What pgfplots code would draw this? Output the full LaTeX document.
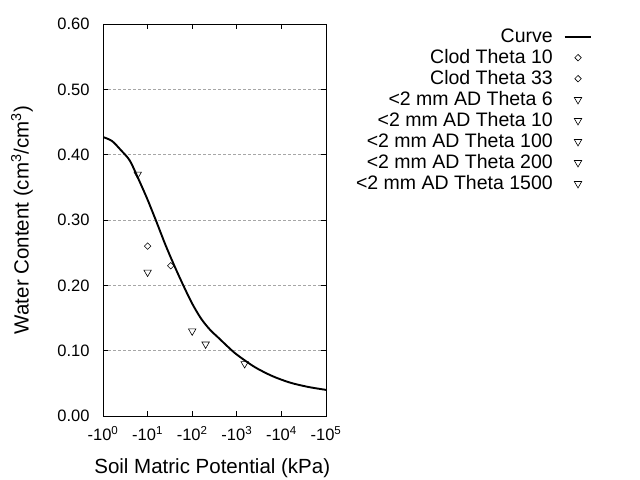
\documentclass[border=0pt]{standalone}
\usepackage{fontspec}
\setmainfont{Liberation Sans}
\usepackage{pgfplots}
\pgfplotsset{compat=1.18}
\begin{document}
\begin{tikzpicture}
\useasboundingbox (0,0) rectangle (640bp,480bp);
\begin{axis}[
  at={(103bp,64bp)}, anchor=south west,
  scale only axis, width=223bp, height=392bp,
  xmode=log, xmin=1, xmax=100000,
  ymin=0, ymax=0.6,
  xtick={1,10,100,1000,10000,100000},
  xticklabels={-10\textsuperscript{0},-10\textsuperscript{1},-10\textsuperscript{2},-10\textsuperscript{3},-10\textsuperscript{4},-10\textsuperscript{5}},
  xminorticks=false,
  ytick={0,0.1,0.2,0.3,0.4,0.5,0.6},
  yticklabel style={/pgf/number format/fixed,/pgf/number format/fixed zerofill,/pgf/number format/precision=2,/pgf/number format/assume math mode=true, font=\fontsize{16.5bp}{18bp}\selectfont, xshift=-10bp},
  xticklabel style={font=\fontsize{16.5bp}{18bp}\selectfont, yshift=-7bp},
  tick align=inside, major tick length=5bp,
  tick style={black, line width=0.8bp},
  axis line style={line width=0.8bp},
  ymajorgrids, grid style={gray!70, line width=0.6bp, dash pattern=on 2.5bp off 2.5bp},
  xlabel={Soil Matric Potential (kPa)},
  ylabel={Water Content (cm\textsuperscript{3}/cm\textsuperscript{3})},
  label style={font=\fontsize{20.5bp}{22bp}\selectfont},
  xlabel style={at={(axis description cs:0.49,-0.133)}, anchor=center},
  ylabel style={at={(axis description cs:-0.363,0.5)}, anchor=center, rotate=0},
  legend plot pos=right,
  legend cell align=right,
  legend image code/.code={\draw[mark repeat=2,mark phase=2,#1] plot coordinates {(0cm,0cm) (0.47cm,0cm) (0.94cm,0cm)};},
  legend style={at={(axis description cs:2.195,0.995)}, anchor=north east, draw=none, fill=none,
    font=\fontsize{19.5bp}{21bp}\selectfont, inner sep=0pt, row sep=0pt,
    nodes={text height=15bp, text depth=4bp, inner sep=1bp}, column sep=10bp},
]
\addplot[black, line width=1.9bp, smooth] coordinates {
 (1,0.427) (1.585,0.421) (2.512,0.407) (3.981,0.391) (6.31,0.362) (10,0.331)
 (15.85,0.297) (25.12,0.262) (39.81,0.230) (63.1,0.200) (100,0.172) (158.5,0.149)
 (251.2,0.132) (398.1,0.119) (631,0.106) (1000,0.094) (2512,0.075) (6310,0.061)
 (15850,0.051) (39810,0.0445) (100000,0.040)
};
\addlegendentry{Curve}
\addplot[only marks, mark=square, mark size=2.3bp, mark options={black, rotate=45, line width=0.6bp}] coordinates {(10,0.26)};
\addlegendentry{Clod Theta 10}
\addplot[only marks, mark=square, mark size=2.3bp, mark options={black, rotate=45, line width=0.6bp}] coordinates {(33,0.23)};
\addlegendentry{Clod Theta 33}
\addplot[only marks, mark=triangle, mark size=4.3bp, mark options={black, rotate=180, line width=0.6bp}] coordinates {(6,0.37)};
\addlegendentry{<2 mm AD Theta 6}
\addplot[only marks, mark=triangle, mark size=4.3bp, mark options={black, rotate=180, line width=0.6bp}] coordinates {(10,0.22)};
\addlegendentry{<2 mm AD Theta 10}
\addplot[only marks, mark=triangle, mark size=4.3bp, mark options={black, rotate=180, line width=0.6bp}] coordinates {(100,0.13)};
\addlegendentry{<2 mm AD Theta 100}
\addplot[only marks, mark=triangle, mark size=4.3bp, mark options={black, rotate=180, line width=0.6bp}] coordinates {(200,0.11)};
\addlegendentry{<2 mm AD Theta 200}
\addplot[only marks, mark=triangle, mark size=4.3bp, mark options={black, rotate=180, line width=0.6bp}] coordinates {(1500,0.08)};
\addlegendentry{<2 mm AD Theta 1500}
\end{axis}
\end{tikzpicture}
\end{document}
